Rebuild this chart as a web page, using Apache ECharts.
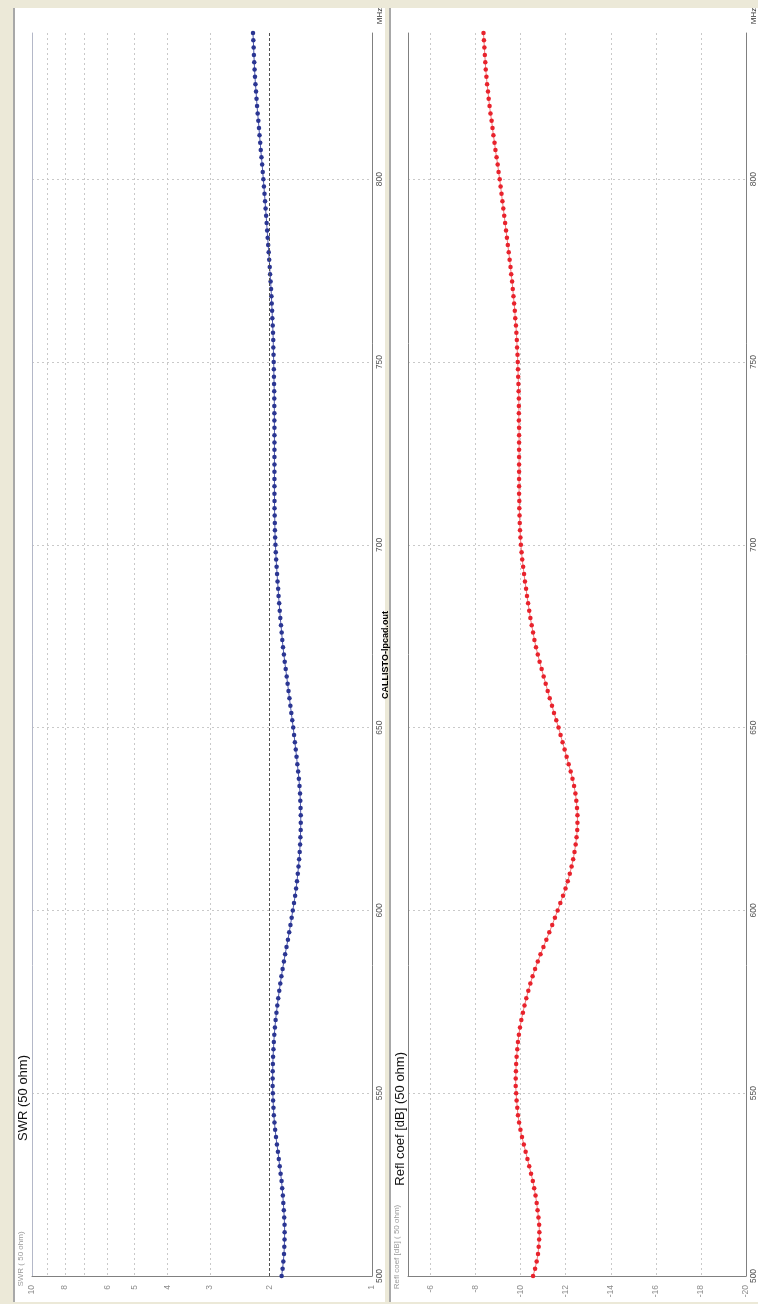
<!DOCTYPE html>
<html><head><meta charset="utf-8">
<script src="https://cdn.jsdelivr.net/npm/echarts@6/dist/echarts.min.js"></script>
<style>html,body{margin:0;padding:0;background:#ECE9D8;} #c{width:758px;height:1304px;}</style>
</head><body><div id="c"></div>
<script>
const freqs = [
500,502,504,506,508,510,512,514,516,518,
520,522,524,526,528,530,532,534,536,538,
540,542,544,546,548,550,552,554,556,558,
560,562,564,566,568,570,572,574,576,578,
580,582,584,586,588,590,592,594,596,598,
600,602,604,606,608,610,612,614,616,618,
620,622,624,626,628,630,632,634,636,638,
640,642,644,646,648,650,652,654,656,658,
660,662,664,666,668,670,672,674,676,678,
680,682,684,686,688,690,692,694,696,698,
700,702,704,706,708,710,712,714,716,718,
720,722,724,726,728,730,732,734,736,738,
740,742,744,746,748,750,752,754,756,758,
760,762,764,766,768,770,772,774,776,778,
780,782,784,786,788,790,792,794,796,798,
800,802,804,806,808,810,812,814,816,818,
820,822,824,826,828,830,832,834,836,838,
840];
const swr = [
1.844,1.832,1.823,1.815,1.811,1.808,1.807,1.808,1.812,1.817,
1.823,1.829,1.837,1.845,1.857,1.868,1.880,1.891,1.904,1.916,
1.927,1.936,1.944,1.949,1.954,1.957,1.960,1.960,1.959,1.957,
1.954,1.949,1.944,1.938,1.930,1.921,1.910,1.899,1.887,1.874,
1.861,1.847,1.832,1.816,1.801,1.784,1.767,1.752,1.737,1.723,
1.710,1.696,1.683,1.672,1.662,1.653,1.645,1.638,1.632,1.627,
1.624,1.621,1.620,1.620,1.622,1.625,1.628,1.634,1.641,1.649,
1.658,1.667,1.676,1.686,1.695,1.705,1.716,1.727,1.738,1.749,
1.760,1.771,1.782,1.794,1.806,1.816,1.827,1.836,1.844,1.852,
1.861,1.868,1.875,1.883,1.888,1.896,1.902,1.908,1.914,1.919,
1.923,1.927,1.930,1.931,1.933,1.935,1.935,1.936,1.936,1.936,
1.936,1.936,1.936,1.936,1.936,1.936,1.936,1.937,1.937,1.938,
1.938,1.939,1.941,1.943,1.944,1.946,1.948,1.951,1.952,1.955,
1.959,1.964,1.967,1.972,1.976,1.981,1.987,1.994,1.999,2.006,
2.013,2.020,2.027,2.034,2.041,2.048,2.056,2.063,2.071,2.079,
2.087,2.096,2.104,2.114,2.124,2.132,2.142,2.150,2.159,2.169,
2.178,2.186,2.193,2.202,2.209,2.215,2.220,2.225,2.229,2.234,
2.239];
const reflDb = [
-10.55,-10.64,-10.71,-10.77,-10.80,-10.82,-10.83,-10.82,-10.79,-10.75,
-10.71,-10.66,-10.60,-10.54,-10.46,-10.38,-10.30,-10.22,-10.14,-10.06,
-9.99,-9.93,-9.88,-9.85,-9.82,-9.80,-9.78,-9.78,-9.79,-9.80,
-9.82,-9.85,-9.88,-9.92,-9.97,-10.03,-10.10,-10.17,-10.25,-10.34,
-10.43,-10.53,-10.64,-10.76,-10.88,-11.01,-11.14,-11.27,-11.40,-11.52,
-11.64,-11.76,-11.88,-11.99,-12.09,-12.18,-12.26,-12.33,-12.39,-12.44,
-12.48,-12.51,-12.52,-12.52,-12.50,-12.47,-12.43,-12.37,-12.30,-12.22,
-12.13,-12.04,-11.95,-11.86,-11.77,-11.68,-11.58,-11.48,-11.39,-11.29,
-11.20,-11.11,-11.02,-10.93,-10.84,-10.76,-10.68,-10.61,-10.55,-10.49,
-10.43,-10.38,-10.33,-10.28,-10.24,-10.19,-10.15,-10.11,-10.07,-10.04,
-10.01,-9.99,-9.97,-9.96,-9.95,-9.94,-9.94,-9.93,-9.93,-9.93,
-9.93,-9.93,-9.93,-9.93,-9.93,-9.93,-9.93,-9.92,-9.92,-9.92,
-9.92,-9.91,-9.90,-9.89,-9.88,-9.87,-9.86,-9.84,-9.83,-9.81,
-9.79,-9.76,-9.74,-9.71,-9.68,-9.65,-9.62,-9.58,-9.55,-9.51,
-9.47,-9.43,-9.39,-9.35,-9.31,-9.27,-9.23,-9.19,-9.15,-9.11,
-9.07,-9.02,-8.98,-8.93,-8.88,-8.84,-8.79,-8.75,-8.71,-8.66,
-8.62,-8.58,-8.55,-8.51,-8.48,-8.45,-8.43,-8.41,-8.39,-8.37,
-8.35];
const swrGridValues = [1,2,3,4,5,6,7,8,9,10];
const swrLabelValues = [1,2,3,4,5,6,8,10];
const reflTickValues = [-20,-18,-16,-14,-12,-10,-8,-6];
const freqGridValues = [550,600,650,700,750,800];
const freqLabelValues = [500,550,600,650,700,750,800];
const swrReference = 2;

const FONT = '"Liberation Sans", Arial, sans-serif';
const gridDash = {color:'#c9c9c9', width:1, type:[2,3]};
const darkLine = {color:'#808080', width:1};

function freqAxis(grid, pos, lineColor, labels){
  return {
    gridIndex:grid, type:'value', min:500, max:840, interval:50, position:pos,
    axisLine:{show:true, onZero:false, lineStyle:{color:lineColor, width:1}},
    axisTick:{show:false, customValues:freqGridValues},
    axisLabel:{show:labels, customValues:freqLabelValues, rotate:90, fontSize:8.5, color:'#555', margin:3, fontFamily:FONT},
    splitLine:{show:labels, lineStyle:gridDash}
  };
}

const chart = echarts.init(document.getElementById('c'));
chart.setOption({
  animation:false,
  backgroundColor:'#ECE9D8',
  grid:[
    {left:32, top:33, width:340, height:1243},
    {left:408, top:33, width:340, height:1243}
  ],
  xAxis:[
    {gridIndex:0, type:'log', logBase:10, min:1, max:10, inverse:true, position:'bottom',
     axisLine:{show:true, onZero:false, lineStyle:darkLine},
     axisTick:{show:false, customValues:swrGridValues},
     axisLabel:{customValues:swrLabelValues, rotate:90, fontSize:8.5, color:'#8c8c8c', margin:9, fontFamily:FONT},
     splitLine:{show:true, lineStyle:gridDash}},
    {gridIndex:1, type:'value', min:-20, max:-5, interval:2, inverse:true, position:'bottom',
     axisLine:{show:true, onZero:false, lineStyle:darkLine},
     axisTick:{show:false, customValues:reflTickValues},
     axisLabel:{customValues:reflTickValues, rotate:90, fontSize:8.5, color:'#8c8c8c', margin:9, fontFamily:FONT},
     splitLine:{show:true, lineStyle:gridDash}}
  ],
  yAxis:[
    freqAxis(0,'right','#808080',true),
    freqAxis(0,'left','#b4b8c8',false),
    freqAxis(1,'right','#808080',true),
    freqAxis(1,'left','#808080',false)
  ],
  graphic:{elements:[
    {type:'rect', z:-10, shape:{x:14,y:8,width:371,height:1294}, style:{fill:'#ffffff'}},
    {type:'rect', z:-10, shape:{x:390,y:8,width:368,height:1294}, style:{fill:'#ffffff'}},
    {type:'rect', z:-9, shape:{x:13,y:8,width:2,height:1294}, style:{fill:'#a8a8a8'}},
    {type:'rect', z:-9, shape:{x:389,y:8,width:2,height:1294}, style:{fill:'#a8a8a8'}},
    {type:'text', z:100, x:23, y:1055, rotation:Math.PI/2, style:{text:'SWR (50 ohm)', align:'right', verticalAlign:'middle', font:'13px '+FONT, fill:'#111'}},
    {type:'text', z:100, x:400, y:1052, rotation:Math.PI/2, style:{text:'Refl coef [dB] (50 ohm)', align:'right', verticalAlign:'middle', font:'13px '+FONT, fill:'#111'}},
    {type:'text', z:100, x:386, y:655, rotation:Math.PI/2, style:{text:'CALLISTO-lpcad.out', align:'center', verticalAlign:'middle', font:'bold 9px '+FONT, fill:'#000'}},
    {type:'text', z:100, x:380, y:16, rotation:Math.PI/2, style:{text:'MHz', align:'center', verticalAlign:'middle', font:'8px '+FONT, fill:'#333'}},
    {type:'text', z:100, x:754, y:16, rotation:Math.PI/2, style:{text:'MHz', align:'center', verticalAlign:'middle', font:'8px '+FONT, fill:'#333'}},
    {type:'text', z:100, x:21, y:1259, rotation:Math.PI/2, style:{text:'SWR ( 50 ohm)', align:'center', verticalAlign:'middle', font:'8px '+FONT, fill:'#9a9a9a'}},
    {type:'text', z:100, x:397, y:1247, rotation:Math.PI/2, style:{text:'Refl coef [dB] ( 50 ohm)', align:'center', verticalAlign:'middle', font:'8px '+FONT, fill:'#9a9a9a'}}
  ]},
  series:[
    {type:'line', xAxisIndex:0, yAxisIndex:0, data:freqs.map((f,i)=>[swr[i], f]),
     symbol:'circle', symbolSize:4.5, showAllSymbol:true,
     itemStyle:{color:'#2a3592'}, lineStyle:{color:'#4f5aae', width:1},
     markLine:{silent:true, symbol:'none', label:{show:false}, animation:false,
       lineStyle:{color:'#505050', width:1, type:[3,2]}, data:[{xAxis:swrReference}]}},
    {type:'line', xAxisIndex:1, yAxisIndex:2, data:freqs.map((f,i)=>[reflDb[i], f]),
     symbol:'circle', symbolSize:4.5, showAllSymbol:true,
     itemStyle:{color:'#e8222c'}, lineStyle:{color:'#f07a7a', width:1}}
  ]
});
</script></body></html>
